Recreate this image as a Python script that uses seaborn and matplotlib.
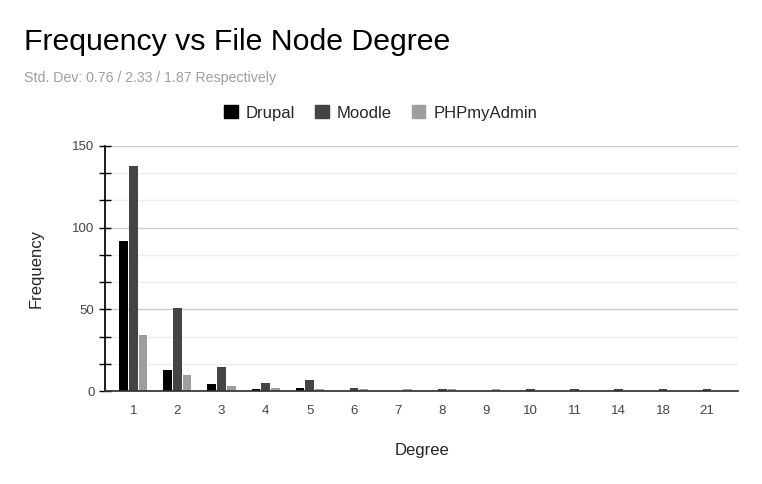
import pandas as pd
import matplotlib.pyplot as plt
import seaborn as sns
from matplotlib.ticker import MultipleLocator

# degree counts per project
degrees = ["1", "2", "3", "4", "5", "6", "7", "8", "9", "10", "11", "14", "18", "21"]
drupal = [92, 13, 4, 1, 2, 0, 0, 0, 0, 0, 0, 0, 0, 0]
moodle = [138, 51, 15, 5, 7, 2, 0, 1, 0, 1, 1, 1, 1, 1]
phpmyadmin = [34, 10, 3, 2, 1, 1, 1, 1, 1, 0, 0, 0, 0, 0]
projects = ["Drupal", "Moodle", "PHPmyAdmin"]
colors = {"Drupal": "#000000", "Moodle": "#444444", "PHPmyAdmin": "#9e9e9e"}

df = pd.DataFrame({
    "Degree": degrees * 3,
    "Project": ["Drupal"] * len(degrees) + ["Moodle"] * len(degrees) + ["PHPmyAdmin"] * len(degrees),
    "Frequency": drupal + moodle + phpmyadmin,
})

sns.set_theme(style="white")
plt.rcParams["font.family"] = ["Liberation Sans", "DejaVu Sans"]

fig = plt.figure(figsize=(7.62, 4.84), dpi=100)
ax = fig.add_axes([105 / 762, 93 / 484, 633 / 762, 245 / 484])

sns.barplot(data=df, x="Degree", y="Frequency", hue="Project", order=degrees,
            hue_order=projects, palette=colors, width=0.66, gap=0.1,
            linewidth=0, ax=ax, legend=False)

ax.set_xlim(-0.64, 13.7)
ax.set_ylim(0, 150)
ax.yaxis.set_major_locator(MultipleLocator(50))
ax.yaxis.set_minor_locator(MultipleLocator(50 / 3))
ax.grid(axis="y", which="major", color="#cccccc", linewidth=1)
ax.grid(axis="y", which="minor", color="#ebebeb", linewidth=1)
ax.set_axisbelow(True)
for side in ["top", "right"]:
    ax.spines[side].set_visible(False)
ax.spines["left"].set_color("black")
ax.spines["bottom"].set_color("#333333")
ax.tick_params(axis="y", which="both", direction="inout", length=9, width=1,
               color="black", labelsize=9.5, labelcolor="#444444", left=True, pad=3)
ax.tick_params(axis="x", length=0, labelsize=9.5, labelcolor="#444444", pad=10)

ax.set_xlabel("Degree", fontsize=12, labelpad=19)
ax.set_ylabel("Frequency", fontsize=12, labelpad=21)

fig.text(24 / 762, 1 - 42 / 484, "Frequency vs File Node Degree", fontsize=21.8,
         va="center", ha="left", color="black")
fig.text(24 / 762, 1 - 78 / 484, "Std. Dev: 0.76 / 2.33 / 1.87 Respectively",
         fontsize=10.2, va="center", ha="left", color="#9e9e9e")

handles = [plt.Rectangle((0, 0), 1, 1, color=colors[p]) for p in projects]
fig.legend(handles, projects, loc="center", bbox_to_anchor=(0.5, 1 - 113 / 484),
           ncol=3, frameon=False, fontsize=12, handlelength=0.8, handleheight=0.8,
           handletextpad=0.5, columnspacing=1.2)

plt.savefig("out.png", dpi=100)
plt.close()
